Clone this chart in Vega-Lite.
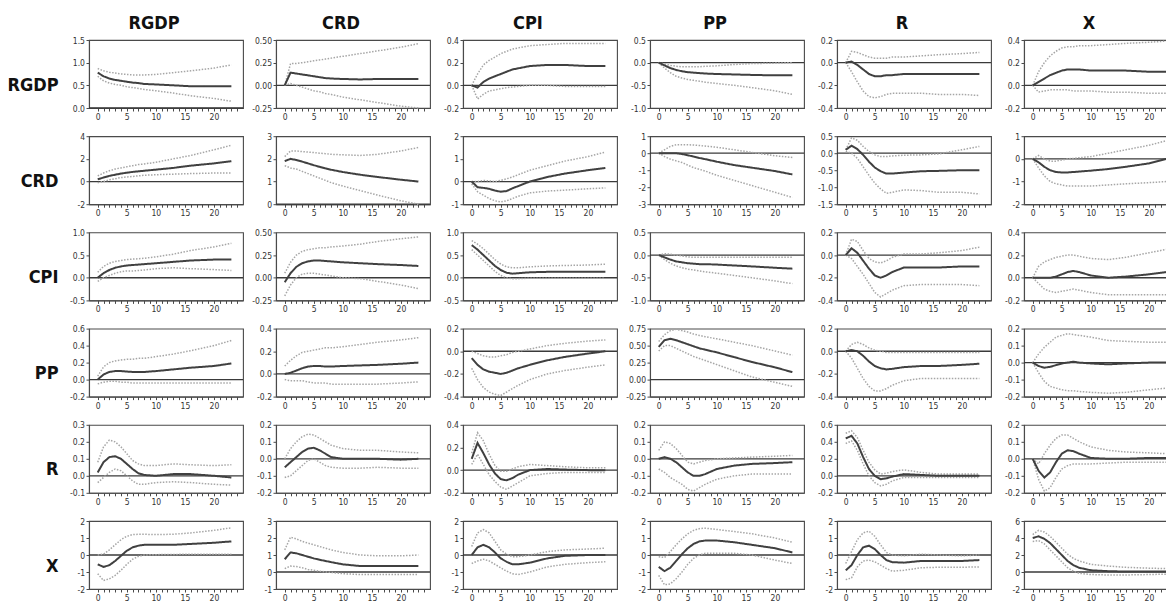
{
"$schema": "https://vega.github.io/schema/vega-lite/v6.json",
"padding": {"left": 6, "top": 14, "right": 0, "bottom": 0},
"datasets": {"irf": [
{"r":"RGDP","c":"RGDP","t":0,"m":0.78,"l":0.7,"h":0.87},{"r":"RGDP","c":"RGDP","t":1,"m":0.7,"l":0.6,"h":0.82},{"r":"RGDP","c":"RGDP","t":2,"m":0.65,"l":0.55,"h":0.79},{"r":"RGDP","c":"RGDP","t":3,"m":0.62,"l":0.52,"h":0.77},{"r":"RGDP","c":"RGDP","t":4,"m":0.6,"l":0.5,"h":0.75},{"r":"RGDP","c":"RGDP","t":5,"m":0.58,"l":0.47,"h":0.74},{"r":"RGDP","c":"RGDP","t":6,"m":0.56,"l":0.45,"h":0.73},{"r":"RGDP","c":"RGDP","t":7,"m":0.55,"l":0.43,"h":0.73},{"r":"RGDP","c":"RGDP","t":8,"m":0.53,"l":0.41,"h":0.73},{"r":"RGDP","c":"RGDP","t":10,"m":0.52,"l":0.38,"h":0.74},{"r":"RGDP","c":"RGDP","t":13,"m":0.5,"l":0.33,"h":0.78},{"r":"RGDP","c":"RGDP","t":16,"m":0.48,"l":0.27,"h":0.82},{"r":"RGDP","c":"RGDP","t":20,"m":0.48,"l":0.21,"h":0.88},{"r":"RGDP","c":"RGDP","t":23,"m":0.48,"l":0.15,"h":0.95},
{"r":"RGDP","c":"CRD","t":0,"m":0,"l":0,"h":0},{"r":"RGDP","c":"CRD","t":1,"m":0.14,"l":0.02,"h":0.24},{"r":"RGDP","c":"CRD","t":2,"m":0.13,"l":0,"h":0.24},{"r":"RGDP","c":"CRD","t":3,"m":0.12,"l":-0.02,"h":0.25},{"r":"RGDP","c":"CRD","t":4,"m":0.11,"l":-0.04,"h":0.26},{"r":"RGDP","c":"CRD","t":5,"m":0.1,"l":-0.06,"h":0.27},{"r":"RGDP","c":"CRD","t":6,"m":0.09,"l":-0.07,"h":0.28},{"r":"RGDP","c":"CRD","t":7,"m":0.08,"l":-0.09,"h":0.29},{"r":"RGDP","c":"CRD","t":8,"m":0.075,"l":-0.1,"h":0.3},{"r":"RGDP","c":"CRD","t":10,"m":0.07,"l":-0.13,"h":0.32},{"r":"RGDP","c":"CRD","t":13,"m":0.065,"l":-0.16,"h":0.35},{"r":"RGDP","c":"CRD","t":16,"m":0.07,"l":-0.19,"h":0.38},{"r":"RGDP","c":"CRD","t":20,"m":0.07,"l":-0.23,"h":0.42},{"r":"RGDP","c":"CRD","t":23,"m":0.07,"l":-0.25,"h":0.46},
{"r":"RGDP","c":"CPI","t":0,"m":0,"l":0,"h":0},{"r":"RGDP","c":"CPI","t":1,"m":-0.02,"l":-0.12,"h":0.1},{"r":"RGDP","c":"CPI","t":2,"m":0.03,"l":-0.08,"h":0.18},{"r":"RGDP","c":"CPI","t":3,"m":0.06,"l":-0.05,"h":0.22},{"r":"RGDP","c":"CPI","t":4,"m":0.08,"l":-0.04,"h":0.25},{"r":"RGDP","c":"CPI","t":5,"m":0.1,"l":-0.03,"h":0.28},{"r":"RGDP","c":"CPI","t":6,"m":0.12,"l":-0.02,"h":0.3},{"r":"RGDP","c":"CPI","t":7,"m":0.14,"l":-0.015,"h":0.32},{"r":"RGDP","c":"CPI","t":8,"m":0.15,"l":-0.01,"h":0.33},{"r":"RGDP","c":"CPI","t":10,"m":0.17,"l":0,"h":0.35},{"r":"RGDP","c":"CPI","t":13,"m":0.18,"l":0,"h":0.36},{"r":"RGDP","c":"CPI","t":16,"m":0.18,"l":-0.01,"h":0.37},{"r":"RGDP","c":"CPI","t":20,"m":0.17,"l":-0.01,"h":0.37},{"r":"RGDP","c":"CPI","t":23,"m":0.17,"l":-0.01,"h":0.37},
{"r":"RGDP","c":"PP","t":0,"m":0,"l":0,"h":0},{"r":"RGDP","c":"PP","t":1,"m":-0.06,"l":-0.12,"h":-0.03},{"r":"RGDP","c":"PP","t":2,"m":-0.12,"l":-0.22,"h":-0.06},{"r":"RGDP","c":"PP","t":3,"m":-0.16,"l":-0.3,"h":-0.08},{"r":"RGDP","c":"PP","t":4,"m":-0.19,"l":-0.34,"h":-0.09},{"r":"RGDP","c":"PP","t":5,"m":-0.21,"l":-0.37,"h":-0.09},{"r":"RGDP","c":"PP","t":6,"m":-0.22,"l":-0.39,"h":-0.09},{"r":"RGDP","c":"PP","t":7,"m":-0.23,"l":-0.41,"h":-0.09},{"r":"RGDP","c":"PP","t":8,"m":-0.24,"l":-0.43,"h":-0.08},{"r":"RGDP","c":"PP","t":10,"m":-0.25,"l":-0.46,"h":-0.07},{"r":"RGDP","c":"PP","t":13,"m":-0.26,"l":-0.5,"h":-0.04},{"r":"RGDP","c":"PP","t":16,"m":-0.27,"l":-0.55,"h":-0.02},{"r":"RGDP","c":"PP","t":20,"m":-0.28,"l":-0.62,"h":-0.01},{"r":"RGDP","c":"PP","t":23,"m":-0.28,"l":-0.7,"h":0},
{"r":"RGDP","c":"R","t":0,"m":0,"l":0,"h":0},{"r":"RGDP","c":"R","t":1,"m":0.01,"l":-0.08,"h":0.1},{"r":"RGDP","c":"R","t":2,"m":-0.02,"l":-0.17,"h":0.09},{"r":"RGDP","c":"R","t":3,"m":-0.06,"l":-0.25,"h":0.07},{"r":"RGDP","c":"R","t":4,"m":-0.1,"l":-0.3,"h":0.05},{"r":"RGDP","c":"R","t":5,"m":-0.12,"l":-0.31,"h":0.04},{"r":"RGDP","c":"R","t":6,"m":-0.12,"l":-0.3,"h":0.04},{"r":"RGDP","c":"R","t":7,"m":-0.11,"l":-0.28,"h":0.04},{"r":"RGDP","c":"R","t":8,"m":-0.11,"l":-0.27,"h":0.05},{"r":"RGDP","c":"R","t":10,"m":-0.1,"l":-0.27,"h":0.05},{"r":"RGDP","c":"R","t":13,"m":-0.1,"l":-0.27,"h":0.06},{"r":"RGDP","c":"R","t":16,"m":-0.1,"l":-0.28,"h":0.07},{"r":"RGDP","c":"R","t":20,"m":-0.1,"l":-0.28,"h":0.08},{"r":"RGDP","c":"R","t":23,"m":-0.1,"l":-0.29,"h":0.09},
{"r":"RGDP","c":"X","t":0,"m":0,"l":0,"h":0},{"r":"RGDP","c":"X","t":1,"m":0.03,"l":-0.06,"h":0.12},{"r":"RGDP","c":"X","t":2,"m":0.06,"l":-0.05,"h":0.2},{"r":"RGDP","c":"X","t":3,"m":0.09,"l":-0.04,"h":0.26},{"r":"RGDP","c":"X","t":4,"m":0.11,"l":-0.04,"h":0.3},{"r":"RGDP","c":"X","t":5,"m":0.13,"l":-0.04,"h":0.33},{"r":"RGDP","c":"X","t":6,"m":0.14,"l":-0.04,"h":0.34},{"r":"RGDP","c":"X","t":7,"m":0.14,"l":-0.05,"h":0.34},{"r":"RGDP","c":"X","t":8,"m":0.14,"l":-0.05,"h":0.35},{"r":"RGDP","c":"X","t":10,"m":0.13,"l":-0.05,"h":0.35},{"r":"RGDP","c":"X","t":13,"m":0.13,"l":-0.06,"h":0.36},{"r":"RGDP","c":"X","t":16,"m":0.13,"l":-0.06,"h":0.37},{"r":"RGDP","c":"X","t":20,"m":0.12,"l":-0.07,"h":0.38},{"r":"RGDP","c":"X","t":23,"m":0.12,"l":-0.07,"h":0.39},
{"r":"CRD","c":"RGDP","t":0,"m":0.2,"l":-0.1,"h":0.5},{"r":"CRD","c":"RGDP","t":1,"m":0.35,"l":0,"h":0.75},{"r":"CRD","c":"RGDP","t":2,"m":0.5,"l":0.15,"h":0.95},{"r":"CRD","c":"RGDP","t":3,"m":0.6,"l":0.25,"h":1.1},{"r":"CRD","c":"RGDP","t":4,"m":0.7,"l":0.35,"h":1.2},{"r":"CRD","c":"RGDP","t":5,"m":0.78,"l":0.4,"h":1.3},{"r":"CRD","c":"RGDP","t":6,"m":0.85,"l":0.45,"h":1.4},{"r":"CRD","c":"RGDP","t":7,"m":0.9,"l":0.5,"h":1.5},{"r":"CRD","c":"RGDP","t":8,"m":0.95,"l":0.55,"h":1.55},{"r":"CRD","c":"RGDP","t":10,"m":1.05,"l":0.6,"h":1.7},{"r":"CRD","c":"RGDP","t":13,"m":1.2,"l":0.65,"h":2},{"r":"CRD","c":"RGDP","t":16,"m":1.4,"l":0.7,"h":2.3},{"r":"CRD","c":"RGDP","t":20,"m":1.6,"l":0.75,"h":2.8},{"r":"CRD","c":"RGDP","t":23,"m":1.8,"l":0.75,"h":3.2},
{"r":"CRD","c":"CRD","t":0,"m":1.9,"l":1.7,"h":2.1},{"r":"CRD","c":"CRD","t":1,"m":2,"l":1.6,"h":2.35},{"r":"CRD","c":"CRD","t":2,"m":1.95,"l":1.55,"h":2.35},{"r":"CRD","c":"CRD","t":3,"m":1.88,"l":1.45,"h":2.32},{"r":"CRD","c":"CRD","t":4,"m":1.8,"l":1.35,"h":2.3},{"r":"CRD","c":"CRD","t":5,"m":1.72,"l":1.25,"h":2.28},{"r":"CRD","c":"CRD","t":6,"m":1.65,"l":1.15,"h":2.25},{"r":"CRD","c":"CRD","t":7,"m":1.58,"l":1.05,"h":2.23},{"r":"CRD","c":"CRD","t":8,"m":1.52,"l":0.95,"h":2.2},{"r":"CRD","c":"CRD","t":10,"m":1.42,"l":0.8,"h":2.18},{"r":"CRD","c":"CRD","t":13,"m":1.3,"l":0.6,"h":2.15},{"r":"CRD","c":"CRD","t":16,"m":1.2,"l":0.4,"h":2.2},{"r":"CRD","c":"CRD","t":20,"m":1.08,"l":0.15,"h":2.35},{"r":"CRD","c":"CRD","t":23,"m":1,"l":0,"h":2.5},
{"r":"CRD","c":"CPI","t":0,"m":0,"l":-0.1,"h":0},{"r":"CRD","c":"CPI","t":1,"m":-0.25,"l":-0.45,"h":0},{"r":"CRD","c":"CPI","t":2,"m":-0.28,"l":-0.6,"h":0.05},{"r":"CRD","c":"CPI","t":3,"m":-0.32,"l":-0.75,"h":0.03},{"r":"CRD","c":"CPI","t":4,"m":-0.4,"l":-0.85,"h":0},{"r":"CRD","c":"CPI","t":5,"m":-0.45,"l":-0.9,"h":0.05},{"r":"CRD","c":"CPI","t":6,"m":-0.42,"l":-0.85,"h":0.12},{"r":"CRD","c":"CPI","t":7,"m":-0.3,"l":-0.75,"h":0.2},{"r":"CRD","c":"CPI","t":8,"m":-0.2,"l":-0.65,"h":0.3},{"r":"CRD","c":"CPI","t":10,"m":0,"l":-0.5,"h":0.5},{"r":"CRD","c":"CPI","t":13,"m":0.2,"l":-0.42,"h":0.7},{"r":"CRD","c":"CPI","t":16,"m":0.35,"l":-0.38,"h":0.9},{"r":"CRD","c":"CPI","t":20,"m":0.5,"l":-0.32,"h":1.1},{"r":"CRD","c":"CPI","t":23,"m":0.6,"l":-0.28,"h":1.3},
{"r":"CRD","c":"PP","t":0,"m":0,"l":0,"h":0},{"r":"CRD","c":"PP","t":1,"m":0,"l":-0.2,"h":0.2},{"r":"CRD","c":"PP","t":2,"m":0,"l":-0.35,"h":0.4},{"r":"CRD","c":"PP","t":3,"m":0,"l":-0.45,"h":0.5},{"r":"CRD","c":"PP","t":4,"m":-0.05,"l":-0.55,"h":0.5},{"r":"CRD","c":"PP","t":5,"m":-0.12,"l":-0.7,"h":0.5},{"r":"CRD","c":"PP","t":6,"m":-0.2,"l":-0.85,"h":0.48},{"r":"CRD","c":"PP","t":7,"m":-0.28,"l":-0.95,"h":0.45},{"r":"CRD","c":"PP","t":8,"m":-0.35,"l":-1.05,"h":0.42},{"r":"CRD","c":"PP","t":10,"m":-0.5,"l":-1.3,"h":0.35},{"r":"CRD","c":"PP","t":13,"m":-0.7,"l":-1.6,"h":0.2},{"r":"CRD","c":"PP","t":16,"m":-0.85,"l":-1.9,"h":0.05},{"r":"CRD","c":"PP","t":20,"m":-1.05,"l":-2.3,"h":-0.15},{"r":"CRD","c":"PP","t":23,"m":-1.25,"l":-2.6,"h":-0.25},
{"r":"CRD","c":"R","t":0,"m":0.1,"l":0.05,"h":0.1},{"r":"CRD","c":"R","t":1,"m":0.22,"l":0,"h":0.45},{"r":"CRD","c":"R","t":2,"m":0.12,"l":-0.15,"h":0.38},{"r":"CRD","c":"R","t":3,"m":-0.05,"l":-0.4,"h":0.2},{"r":"CRD","c":"R","t":4,"m":-0.25,"l":-0.65,"h":0.05},{"r":"CRD","c":"R","t":5,"m":-0.42,"l":-0.88,"h":-0.05},{"r":"CRD","c":"R","t":6,"m":-0.53,"l":-1.05,"h":-0.1},{"r":"CRD","c":"R","t":7,"m":-0.6,"l":-1.18,"h":-0.1},{"r":"CRD","c":"R","t":8,"m":-0.6,"l":-1.15,"h":-0.08},{"r":"CRD","c":"R","t":10,"m":-0.57,"l":-1.08,"h":-0.06},{"r":"CRD","c":"R","t":13,"m":-0.53,"l":-1.1,"h":-0.05},{"r":"CRD","c":"R","t":16,"m":-0.52,"l":-1.15,"h":-0.02},{"r":"CRD","c":"R","t":20,"m":-0.5,"l":-1.15,"h":0.1},{"r":"CRD","c":"R","t":23,"m":-0.5,"l":-1.2,"h":0.2},
{"r":"CRD","c":"X","t":0,"m":0,"l":0,"h":0},{"r":"CRD","c":"X","t":1,"m":-0.15,"l":-0.4,"h":0.15},{"r":"CRD","c":"X","t":2,"m":-0.35,"l":-0.75,"h":0},{"r":"CRD","c":"X","t":3,"m":-0.5,"l":-1,"h":-0.1},{"r":"CRD","c":"X","t":4,"m":-0.58,"l":-1.1,"h":-0.1},{"r":"CRD","c":"X","t":5,"m":-0.6,"l":-1.15,"h":-0.05},{"r":"CRD","c":"X","t":6,"m":-0.6,"l":-1.2,"h":0},{"r":"CRD","c":"X","t":7,"m":-0.58,"l":-1.2,"h":0.02},{"r":"CRD","c":"X","t":8,"m":-0.56,"l":-1.2,"h":0.05},{"r":"CRD","c":"X","t":10,"m":-0.52,"l":-1.2,"h":0.1},{"r":"CRD","c":"X","t":13,"m":-0.45,"l":-1.15,"h":0.25},{"r":"CRD","c":"X","t":16,"m":-0.35,"l":-1.1,"h":0.4},{"r":"CRD","c":"X","t":20,"m":-0.2,"l":-1.05,"h":0.6},{"r":"CRD","c":"X","t":23,"m":0,"l":-1,"h":0.8},
{"r":"CPI","c":"RGDP","t":0,"m":0,"l":-0.08,"h":0.12},{"r":"CPI","c":"RGDP","t":1,"m":0.1,"l":0,"h":0.25},{"r":"CPI","c":"RGDP","t":2,"m":0.17,"l":0.05,"h":0.32},{"r":"CPI","c":"RGDP","t":3,"m":0.22,"l":0.1,"h":0.36},{"r":"CPI","c":"RGDP","t":4,"m":0.25,"l":0.13,"h":0.38},{"r":"CPI","c":"RGDP","t":5,"m":0.27,"l":0.15,"h":0.4},{"r":"CPI","c":"RGDP","t":6,"m":0.28,"l":0.15,"h":0.41},{"r":"CPI","c":"RGDP","t":7,"m":0.29,"l":0.16,"h":0.42},{"r":"CPI","c":"RGDP","t":8,"m":0.3,"l":0.17,"h":0.43},{"r":"CPI","c":"RGDP","t":10,"m":0.32,"l":0.2,"h":0.46},{"r":"CPI","c":"RGDP","t":13,"m":0.35,"l":0.22,"h":0.52},{"r":"CPI","c":"RGDP","t":16,"m":0.38,"l":0.2,"h":0.6},{"r":"CPI","c":"RGDP","t":20,"m":0.4,"l":0.18,"h":0.68},{"r":"CPI","c":"RGDP","t":23,"m":0.4,"l":0.16,"h":0.76},
{"r":"CPI","c":"CRD","t":0,"m":-0.05,"l":-0.2,"h":0.05},{"r":"CPI","c":"CRD","t":1,"m":0.05,"l":-0.08,"h":0.17},{"r":"CPI","c":"CRD","t":2,"m":0.12,"l":0,"h":0.25},{"r":"CPI","c":"CRD","t":3,"m":0.16,"l":0.04,"h":0.29},{"r":"CPI","c":"CRD","t":4,"m":0.18,"l":0.05,"h":0.31},{"r":"CPI","c":"CRD","t":5,"m":0.19,"l":0.05,"h":0.32},{"r":"CPI","c":"CRD","t":6,"m":0.19,"l":0.04,"h":0.33},{"r":"CPI","c":"CRD","t":7,"m":0.185,"l":0.03,"h":0.33},{"r":"CPI","c":"CRD","t":8,"m":0.18,"l":0.02,"h":0.34},{"r":"CPI","c":"CRD","t":10,"m":0.17,"l":0,"h":0.35},{"r":"CPI","c":"CRD","t":13,"m":0.16,"l":-0.01,"h":0.37},{"r":"CPI","c":"CRD","t":16,"m":0.15,"l":-0.04,"h":0.4},{"r":"CPI","c":"CRD","t":20,"m":0.14,"l":-0.08,"h":0.43},{"r":"CPI","c":"CRD","t":23,"m":0.13,"l":-0.12,"h":0.45},
{"r":"CPI","c":"CPI","t":0,"m":0.72,"l":0.62,"h":0.82},{"r":"CPI","c":"CPI","t":1,"m":0.62,"l":0.5,"h":0.74},{"r":"CPI","c":"CPI","t":2,"m":0.5,"l":0.38,"h":0.64},{"r":"CPI","c":"CPI","t":3,"m":0.38,"l":0.26,"h":0.52},{"r":"CPI","c":"CPI","t":4,"m":0.26,"l":0.14,"h":0.4},{"r":"CPI","c":"CPI","t":5,"m":0.17,"l":0.05,"h":0.3},{"r":"CPI","c":"CPI","t":6,"m":0.11,"l":0,"h":0.24},{"r":"CPI","c":"CPI","t":7,"m":0.09,"l":-0.02,"h":0.22},{"r":"CPI","c":"CPI","t":8,"m":0.1,"l":-0.02,"h":0.22},{"r":"CPI","c":"CPI","t":10,"m":0.12,"l":-0.01,"h":0.24},{"r":"CPI","c":"CPI","t":13,"m":0.13,"l":-0.01,"h":0.26},{"r":"CPI","c":"CPI","t":16,"m":0.13,"l":-0.01,"h":0.27},{"r":"CPI","c":"CPI","t":20,"m":0.13,"l":-0.01,"h":0.28},{"r":"CPI","c":"CPI","t":23,"m":0.13,"l":-0.01,"h":0.3},
{"r":"CPI","c":"PP","t":0,"m":0,"l":0,"h":0},{"r":"CPI","c":"PP","t":1,"m":-0.05,"l":-0.1,"h":0.03},{"r":"CPI","c":"PP","t":2,"m":-0.1,"l":-0.18,"h":0.02},{"r":"CPI","c":"PP","t":3,"m":-0.14,"l":-0.24,"h":0},{"r":"CPI","c":"PP","t":4,"m":-0.16,"l":-0.28,"h":-0.02},{"r":"CPI","c":"PP","t":5,"m":-0.18,"l":-0.31,"h":-0.04},{"r":"CPI","c":"PP","t":6,"m":-0.19,"l":-0.33,"h":-0.05},{"r":"CPI","c":"PP","t":7,"m":-0.2,"l":-0.35,"h":-0.05},{"r":"CPI","c":"PP","t":8,"m":-0.2,"l":-0.37,"h":-0.05},{"r":"CPI","c":"PP","t":10,"m":-0.21,"l":-0.4,"h":-0.05},{"r":"CPI","c":"PP","t":13,"m":-0.23,"l":-0.45,"h":-0.05},{"r":"CPI","c":"PP","t":16,"m":-0.25,"l":-0.5,"h":-0.05},{"r":"CPI","c":"PP","t":20,"m":-0.28,"l":-0.57,"h":-0.05},{"r":"CPI","c":"PP","t":23,"m":-0.3,"l":-0.63,"h":-0.05},
{"r":"CPI","c":"R","t":0,"m":0,"l":0,"h":0},{"r":"CPI","c":"R","t":1,"m":0.06,"l":-0.03,"h":0.14},{"r":"CPI","c":"R","t":2,"m":0.02,"l":-0.1,"h":0.12},{"r":"CPI","c":"R","t":3,"m":-0.05,"l":-0.17,"h":0.04},{"r":"CPI","c":"R","t":4,"m":-0.12,"l":-0.25,"h":-0.03},{"r":"CPI","c":"R","t":5,"m":-0.18,"l":-0.33,"h":-0.06},{"r":"CPI","c":"R","t":6,"m":-0.2,"l":-0.37,"h":-0.07},{"r":"CPI","c":"R","t":7,"m":-0.18,"l":-0.34,"h":-0.05},{"r":"CPI","c":"R","t":8,"m":-0.15,"l":-0.31,"h":-0.02},{"r":"CPI","c":"R","t":10,"m":-0.11,"l":-0.27,"h":0.01},{"r":"CPI","c":"R","t":13,"m":-0.11,"l":-0.26,"h":0.01},{"r":"CPI","c":"R","t":16,"m":-0.11,"l":-0.26,"h":0.02},{"r":"CPI","c":"R","t":20,"m":-0.1,"l":-0.26,"h":0.04},{"r":"CPI","c":"R","t":23,"m":-0.1,"l":-0.27,"h":0.07},
{"r":"CPI","c":"X","t":0,"m":0,"l":0,"h":0},{"r":"CPI","c":"X","t":1,"m":0,"l":-0.05,"h":0.1},{"r":"CPI","c":"X","t":2,"m":0,"l":-0.1,"h":0.14},{"r":"CPI","c":"X","t":3,"m":0,"l":-0.12,"h":0.16},{"r":"CPI","c":"X","t":4,"m":0.01,"l":-0.13,"h":0.18},{"r":"CPI","c":"X","t":5,"m":0.03,"l":-0.12,"h":0.19},{"r":"CPI","c":"X","t":6,"m":0.05,"l":-0.11,"h":0.2},{"r":"CPI","c":"X","t":7,"m":0.06,"l":-0.1,"h":0.2},{"r":"CPI","c":"X","t":8,"m":0.05,"l":-0.11,"h":0.19},{"r":"CPI","c":"X","t":10,"m":0.02,"l":-0.13,"h":0.17},{"r":"CPI","c":"X","t":13,"m":0,"l":-0.15,"h":0.16},{"r":"CPI","c":"X","t":16,"m":0.01,"l":-0.15,"h":0.18},{"r":"CPI","c":"X","t":20,"m":0.03,"l":-0.15,"h":0.22},{"r":"CPI","c":"X","t":23,"m":0.05,"l":-0.15,"h":0.25},
{"r":"PP","c":"RGDP","t":0,"m":0,"l":-0.05,"h":0.04},{"r":"PP","c":"RGDP","t":1,"m":0.06,"l":-0.03,"h":0.15},{"r":"PP","c":"RGDP","t":2,"m":0.09,"l":-0.02,"h":0.2},{"r":"PP","c":"RGDP","t":3,"m":0.1,"l":-0.02,"h":0.22},{"r":"PP","c":"RGDP","t":4,"m":0.1,"l":-0.03,"h":0.23},{"r":"PP","c":"RGDP","t":5,"m":0.095,"l":-0.03,"h":0.24},{"r":"PP","c":"RGDP","t":6,"m":0.09,"l":-0.04,"h":0.24},{"r":"PP","c":"RGDP","t":7,"m":0.09,"l":-0.04,"h":0.25},{"r":"PP","c":"RGDP","t":8,"m":0.09,"l":-0.04,"h":0.25},{"r":"PP","c":"RGDP","t":10,"m":0.1,"l":-0.04,"h":0.27},{"r":"PP","c":"RGDP","t":13,"m":0.12,"l":-0.04,"h":0.3},{"r":"PP","c":"RGDP","t":16,"m":0.14,"l":-0.04,"h":0.34},{"r":"PP","c":"RGDP","t":20,"m":0.16,"l":-0.04,"h":0.4},{"r":"PP","c":"RGDP","t":23,"m":0.19,"l":-0.04,"h":0.46},
{"r":"PP","c":"CRD","t":0,"m":0,"l":-0.05,"h":0.07},{"r":"PP","c":"CRD","t":1,"m":0.01,"l":-0.06,"h":0.12},{"r":"PP","c":"CRD","t":2,"m":0.03,"l":-0.06,"h":0.16},{"r":"PP","c":"CRD","t":3,"m":0.05,"l":-0.06,"h":0.19},{"r":"PP","c":"CRD","t":4,"m":0.065,"l":-0.07,"h":0.2},{"r":"PP","c":"CRD","t":5,"m":0.07,"l":-0.08,"h":0.21},{"r":"PP","c":"CRD","t":6,"m":0.07,"l":-0.08,"h":0.22},{"r":"PP","c":"CRD","t":7,"m":0.065,"l":-0.08,"h":0.23},{"r":"PP","c":"CRD","t":8,"m":0.065,"l":-0.09,"h":0.23},{"r":"PP","c":"CRD","t":10,"m":0.07,"l":-0.09,"h":0.24},{"r":"PP","c":"CRD","t":13,"m":0.075,"l":-0.09,"h":0.26},{"r":"PP","c":"CRD","t":16,"m":0.08,"l":-0.09,"h":0.28},{"r":"PP","c":"CRD","t":20,"m":0.09,"l":-0.08,"h":0.3},{"r":"PP","c":"CRD","t":23,"m":0.1,"l":-0.07,"h":0.32},
{"r":"PP","c":"CPI","t":0,"m":-0.06,"l":-0.15,"h":0},{"r":"PP","c":"CPI","t":1,"m":-0.12,"l":-0.25,"h":-0.02},{"r":"PP","c":"CPI","t":2,"m":-0.16,"l":-0.32,"h":-0.04},{"r":"PP","c":"CPI","t":3,"m":-0.18,"l":-0.36,"h":-0.05},{"r":"PP","c":"CPI","t":4,"m":-0.19,"l":-0.38,"h":-0.05},{"r":"PP","c":"CPI","t":5,"m":-0.2,"l":-0.39,"h":-0.04},{"r":"PP","c":"CPI","t":6,"m":-0.19,"l":-0.36,"h":-0.03},{"r":"PP","c":"CPI","t":7,"m":-0.17,"l":-0.33,"h":-0.01},{"r":"PP","c":"CPI","t":8,"m":-0.15,"l":-0.3,"h":0},{"r":"PP","c":"CPI","t":10,"m":-0.12,"l":-0.25,"h":0.02},{"r":"PP","c":"CPI","t":13,"m":-0.08,"l":-0.2,"h":0.05},{"r":"PP","c":"CPI","t":16,"m":-0.05,"l":-0.17,"h":0.07},{"r":"PP","c":"CPI","t":20,"m":-0.02,"l":-0.14,"h":0.09},{"r":"PP","c":"CPI","t":23,"m":0,"l":-0.12,"h":0.1},
{"r":"PP","c":"PP","t":0,"m":0.48,"l":0.42,"h":0.56},{"r":"PP","c":"PP","t":1,"m":0.58,"l":0.5,"h":0.66},{"r":"PP","c":"PP","t":2,"m":0.6,"l":0.5,"h":0.72},{"r":"PP","c":"PP","t":3,"m":0.58,"l":0.46,"h":0.74},{"r":"PP","c":"PP","t":4,"m":0.55,"l":0.42,"h":0.72},{"r":"PP","c":"PP","t":5,"m":0.52,"l":0.38,"h":0.7},{"r":"PP","c":"PP","t":6,"m":0.49,"l":0.34,"h":0.67},{"r":"PP","c":"PP","t":7,"m":0.46,"l":0.31,"h":0.65},{"r":"PP","c":"PP","t":8,"m":0.44,"l":0.28,"h":0.63},{"r":"PP","c":"PP","t":10,"m":0.4,"l":0.22,"h":0.6},{"r":"PP","c":"PP","t":13,"m":0.33,"l":0.13,"h":0.55},{"r":"PP","c":"PP","t":16,"m":0.26,"l":0.04,"h":0.5},{"r":"PP","c":"PP","t":20,"m":0.18,"l":-0.04,"h":0.42},{"r":"PP","c":"PP","t":23,"m":0.11,"l":-0.1,"h":0.36},
{"r":"PP","c":"R","t":0,"m":0,"l":0,"h":0},{"r":"PP","c":"R","t":1,"m":0.01,"l":-0.06,"h":0.06},{"r":"PP","c":"R","t":2,"m":0,"l":-0.15,"h":0.08},{"r":"PP","c":"R","t":3,"m":-0.04,"l":-0.24,"h":0.06},{"r":"PP","c":"R","t":4,"m":-0.09,"l":-0.31,"h":0.03},{"r":"PP","c":"R","t":5,"m":-0.13,"l":-0.35,"h":0.01},{"r":"PP","c":"R","t":6,"m":-0.15,"l":-0.35,"h":0},{"r":"PP","c":"R","t":7,"m":-0.16,"l":-0.33,"h":-0.01},{"r":"PP","c":"R","t":8,"m":-0.155,"l":-0.3,"h":-0.01},{"r":"PP","c":"R","t":10,"m":-0.14,"l":-0.26,"h":-0.01},{"r":"PP","c":"R","t":13,"m":-0.13,"l":-0.24,"h":-0.01},{"r":"PP","c":"R","t":16,"m":-0.13,"l":-0.24,"h":-0.01},{"r":"PP","c":"R","t":20,"m":-0.12,"l":-0.24,"h":-0.01},{"r":"PP","c":"R","t":23,"m":-0.11,"l":-0.24,"h":-0.01},
{"r":"PP","c":"X","t":0,"m":0,"l":0,"h":0},{"r":"PP","c":"X","t":1,"m":-0.02,"l":-0.06,"h":0.05},{"r":"PP","c":"X","t":2,"m":-0.03,"l":-0.11,"h":0.09},{"r":"PP","c":"X","t":3,"m":-0.025,"l":-0.14,"h":0.12},{"r":"PP","c":"X","t":4,"m":-0.015,"l":-0.15,"h":0.15},{"r":"PP","c":"X","t":5,"m":-0.005,"l":-0.16,"h":0.16},{"r":"PP","c":"X","t":6,"m":0,"l":-0.165,"h":0.17},{"r":"PP","c":"X","t":7,"m":0.005,"l":-0.165,"h":0.165},{"r":"PP","c":"X","t":8,"m":0,"l":-0.17,"h":0.16},{"r":"PP","c":"X","t":10,"m":-0.005,"l":-0.175,"h":0.15},{"r":"PP","c":"X","t":13,"m":-0.01,"l":-0.18,"h":0.13},{"r":"PP","c":"X","t":16,"m":-0.005,"l":-0.175,"h":0.125},{"r":"PP","c":"X","t":20,"m":0,"l":-0.16,"h":0.12},{"r":"PP","c":"X","t":23,"m":0,"l":-0.15,"h":0.12},
{"r":"R","c":"RGDP","t":0,"m":0.02,"l":-0.04,"h":0.08},{"r":"R","c":"RGDP","t":1,"m":0.08,"l":-0.01,"h":0.17},{"r":"R","c":"RGDP","t":2,"m":0.11,"l":0.02,"h":0.21},{"r":"R","c":"RGDP","t":3,"m":0.115,"l":0.04,"h":0.2},{"r":"R","c":"RGDP","t":4,"m":0.1,"l":0.03,"h":0.17},{"r":"R","c":"RGDP","t":5,"m":0.07,"l":0,"h":0.13},{"r":"R","c":"RGDP","t":6,"m":0.04,"l":-0.03,"h":0.09},{"r":"R","c":"RGDP","t":7,"m":0.015,"l":-0.05,"h":0.07},{"r":"R","c":"RGDP","t":8,"m":0.005,"l":-0.05,"h":0.06},{"r":"R","c":"RGDP","t":10,"m":0,"l":-0.04,"h":0.06},{"r":"R","c":"RGDP","t":13,"m":0.01,"l":-0.035,"h":0.07},{"r":"R","c":"RGDP","t":16,"m":0.01,"l":-0.04,"h":0.065},{"r":"R","c":"RGDP","t":20,"m":0,"l":-0.05,"h":0.06},{"r":"R","c":"RGDP","t":23,"m":-0.01,"l":-0.055,"h":0.065},
{"r":"R","c":"CRD","t":0,"m":-0.05,"l":-0.11,"h":0},{"r":"R","c":"CRD","t":1,"m":-0.02,"l":-0.1,"h":0.06},{"r":"R","c":"CRD","t":2,"m":0.01,"l":-0.07,"h":0.1},{"r":"R","c":"CRD","t":3,"m":0.04,"l":-0.04,"h":0.13},{"r":"R","c":"CRD","t":4,"m":0.06,"l":-0.01,"h":0.145},{"r":"R","c":"CRD","t":5,"m":0.065,"l":0,"h":0.14},{"r":"R","c":"CRD","t":6,"m":0.05,"l":-0.02,"h":0.12},{"r":"R","c":"CRD","t":7,"m":0.03,"l":-0.04,"h":0.1},{"r":"R","c":"CRD","t":8,"m":0.01,"l":-0.05,"h":0.08},{"r":"R","c":"CRD","t":10,"m":0,"l":-0.055,"h":0.06},{"r":"R","c":"CRD","t":13,"m":0,"l":-0.055,"h":0.05},{"r":"R","c":"CRD","t":16,"m":0,"l":-0.05,"h":0.05},{"r":"R","c":"CRD","t":20,"m":-0.005,"l":-0.055,"h":0.04},{"r":"R","c":"CRD","t":23,"m":0,"l":-0.055,"h":0.035},
{"r":"R","c":"CPI","t":0,"m":0.1,"l":0.05,"h":0.15},{"r":"R","c":"CPI","t":1,"m":0.24,"l":0.14,"h":0.33},{"r":"R","c":"CPI","t":2,"m":0.15,"l":0.05,"h":0.26},{"r":"R","c":"CPI","t":3,"m":0.05,"l":-0.04,"h":0.14},{"r":"R","c":"CPI","t":4,"m":-0.03,"l":-0.1,"h":0.04},{"r":"R","c":"CPI","t":5,"m":-0.08,"l":-0.15,"h":-0.01},{"r":"R","c":"CPI","t":6,"m":-0.09,"l":-0.17,"h":-0.01},{"r":"R","c":"CPI","t":7,"m":-0.07,"l":-0.14,"h":0.01},{"r":"R","c":"CPI","t":8,"m":-0.04,"l":-0.11,"h":0.03},{"r":"R","c":"CPI","t":10,"m":0,"l":-0.05,"h":0.05},{"r":"R","c":"CPI","t":13,"m":0.01,"l":-0.03,"h":0.04},{"r":"R","c":"CPI","t":16,"m":0.005,"l":-0.02,"h":0.03},{"r":"R","c":"CPI","t":20,"m":0,"l":-0.02,"h":0.02},{"r":"R","c":"CPI","t":23,"m":0,"l":-0.02,"h":0.02},
{"r":"R","c":"PP","t":0,"m":0,"l":-0.06,"h":0.05},{"r":"R","c":"PP","t":1,"m":0.01,"l":-0.08,"h":0.1},{"r":"R","c":"PP","t":2,"m":0,"l":-0.11,"h":0.09},{"r":"R","c":"PP","t":3,"m":-0.02,"l":-0.13,"h":0.06},{"r":"R","c":"PP","t":4,"m":-0.05,"l":-0.15,"h":0.02},{"r":"R","c":"PP","t":5,"m":-0.08,"l":-0.18,"h":-0.02},{"r":"R","c":"PP","t":6,"m":-0.1,"l":-0.19,"h":-0.03},{"r":"R","c":"PP","t":7,"m":-0.1,"l":-0.17,"h":-0.02},{"r":"R","c":"PP","t":8,"m":-0.09,"l":-0.15,"h":-0.01},{"r":"R","c":"PP","t":10,"m":-0.06,"l":-0.12,"h":0},{"r":"R","c":"PP","t":13,"m":-0.04,"l":-0.1,"h":0.005},{"r":"R","c":"PP","t":16,"m":-0.03,"l":-0.09,"h":0.01},{"r":"R","c":"PP","t":20,"m":-0.025,"l":-0.09,"h":0.015},{"r":"R","c":"PP","t":23,"m":-0.02,"l":-0.09,"h":0.02},
{"r":"R","c":"R","t":0,"m":0.44,"l":0.38,"h":0.5},{"r":"R","c":"R","t":1,"m":0.47,"l":0.41,"h":0.53},{"r":"R","c":"R","t":2,"m":0.38,"l":0.3,"h":0.45},{"r":"R","c":"R","t":3,"m":0.22,"l":0.14,"h":0.3},{"r":"R","c":"R","t":4,"m":0.08,"l":0,"h":0.16},{"r":"R","c":"R","t":5,"m":0,"l":-0.08,"h":0.07},{"r":"R","c":"R","t":6,"m":-0.04,"l":-0.12,"h":0.02},{"r":"R","c":"R","t":7,"m":-0.03,"l":-0.1,"h":0.03},{"r":"R","c":"R","t":8,"m":-0.01,"l":-0.06,"h":0.05},{"r":"R","c":"R","t":10,"m":0.02,"l":-0.02,"h":0.07},{"r":"R","c":"R","t":13,"m":0.01,"l":-0.02,"h":0.04},{"r":"R","c":"R","t":16,"m":0,"l":-0.02,"h":0.02},{"r":"R","c":"R","t":20,"m":0,"l":-0.02,"h":0.02},{"r":"R","c":"R","t":23,"m":0,"l":-0.02,"h":0.02},
{"r":"R","c":"X","t":0,"m":0,"l":0,"h":0},{"r":"R","c":"X","t":1,"m":-0.07,"l":-0.12,"h":-0.03},{"r":"R","c":"X","t":2,"m":-0.11,"l":-0.19,"h":0.03},{"r":"R","c":"X","t":3,"m":-0.08,"l":-0.17,"h":0.08},{"r":"R","c":"X","t":4,"m":-0.02,"l":-0.11,"h":0.12},{"r":"R","c":"X","t":5,"m":0.03,"l":-0.06,"h":0.14},{"r":"R","c":"X","t":6,"m":0.05,"l":-0.04,"h":0.14},{"r":"R","c":"X","t":7,"m":0.045,"l":-0.03,"h":0.12},{"r":"R","c":"X","t":8,"m":0.03,"l":-0.03,"h":0.1},{"r":"R","c":"X","t":10,"m":0.005,"l":-0.03,"h":0.07},{"r":"R","c":"X","t":13,"m":0,"l":-0.025,"h":0.05},{"r":"R","c":"X","t":16,"m":0,"l":-0.02,"h":0.04},{"r":"R","c":"X","t":20,"m":0.005,"l":-0.02,"h":0.035},{"r":"R","c":"X","t":23,"m":0.005,"l":-0.02,"h":0.03},
{"r":"X","c":"RGDP","t":0,"m":-0.55,"l":-1.1,"h":0},{"r":"X","c":"RGDP","t":1,"m":-0.7,"l":-1.5,"h":0.05},{"r":"X","c":"RGDP","t":2,"m":-0.6,"l":-1.4,"h":0.3},{"r":"X","c":"RGDP","t":3,"m":-0.35,"l":-1.2,"h":0.6},{"r":"X","c":"RGDP","t":4,"m":-0.05,"l":-0.9,"h":0.9},{"r":"X","c":"RGDP","t":5,"m":0.25,"l":-0.55,"h":1.1},{"r":"X","c":"RGDP","t":6,"m":0.45,"l":-0.25,"h":1.2},{"r":"X","c":"RGDP","t":7,"m":0.55,"l":-0.08,"h":1.22},{"r":"X","c":"RGDP","t":8,"m":0.6,"l":0,"h":1.22},{"r":"X","c":"RGDP","t":10,"m":0.6,"l":0.02,"h":1.2},{"r":"X","c":"RGDP","t":13,"m":0.6,"l":0.03,"h":1.22},{"r":"X","c":"RGDP","t":16,"m":0.65,"l":0.05,"h":1.3},{"r":"X","c":"RGDP","t":20,"m":0.72,"l":0.05,"h":1.45},{"r":"X","c":"RGDP","t":23,"m":0.8,"l":0.05,"h":1.6},
{"r":"X","c":"CRD","t":0,"m":0.75,"l":0.2,"h":1.3},{"r":"X","c":"CRD","t":1,"m":1.15,"l":0.35,"h":2.05},{"r":"X","c":"CRD","t":2,"m":1.1,"l":0.32,"h":1.95},{"r":"X","c":"CRD","t":3,"m":1,"l":0.25,"h":1.8},{"r":"X","c":"CRD","t":4,"m":0.9,"l":0.15,"h":1.7},{"r":"X","c":"CRD","t":5,"m":0.8,"l":0.1,"h":1.6},{"r":"X","c":"CRD","t":6,"m":0.72,"l":0.05,"h":1.5},{"r":"X","c":"CRD","t":7,"m":0.65,"l":0,"h":1.4},{"r":"X","c":"CRD","t":8,"m":0.58,"l":-0.02,"h":1.3},{"r":"X","c":"CRD","t":10,"m":0.45,"l":-0.1,"h":1.15},{"r":"X","c":"CRD","t":13,"m":0.35,"l":-0.15,"h":1},{"r":"X","c":"CRD","t":16,"m":0.35,"l":-0.15,"h":0.95},{"r":"X","c":"CRD","t":20,"m":0.35,"l":-0.15,"h":0.95},{"r":"X","c":"CRD","t":23,"m":0.35,"l":-0.15,"h":1},
{"r":"X","c":"CPI","t":0,"m":0,"l":-0.5,"h":0.5},{"r":"X","c":"CPI","t":1,"m":0.45,"l":-0.35,"h":1.3},{"r":"X","c":"CPI","t":2,"m":0.6,"l":-0.25,"h":1.5},{"r":"X","c":"CPI","t":3,"m":0.45,"l":-0.35,"h":1.3},{"r":"X","c":"CPI","t":4,"m":0.15,"l":-0.55,"h":0.8},{"r":"X","c":"CPI","t":5,"m":-0.2,"l":-0.75,"h":0.3},{"r":"X","c":"CPI","t":6,"m":-0.4,"l":-0.95,"h":0.05},{"r":"X","c":"CPI","t":7,"m":-0.55,"l":-1.1,"h":-0.1},{"r":"X","c":"CPI","t":8,"m":-0.55,"l":-1.15,"h":-0.1},{"r":"X","c":"CPI","t":10,"m":-0.45,"l":-1,"h":0},{"r":"X","c":"CPI","t":13,"m":-0.2,"l":-0.7,"h":0.2},{"r":"X","c":"CPI","t":16,"m":-0.05,"l":-0.55,"h":0.3},{"r":"X","c":"CPI","t":20,"m":0,"l":-0.45,"h":0.35},{"r":"X","c":"CPI","t":23,"m":0,"l":-0.4,"h":0.4},
{"r":"X","c":"PP","t":0,"m":-0.7,"l":-1.2,"h":-0.1},{"r":"X","c":"PP","t":1,"m":-0.95,"l":-1.75,"h":-0.15},{"r":"X","c":"PP","t":2,"m":-0.75,"l":-1.7,"h":0.2},{"r":"X","c":"PP","t":3,"m":-0.35,"l":-1.4,"h":0.6},{"r":"X","c":"PP","t":4,"m":0.05,"l":-1,"h":0.95},{"r":"X","c":"PP","t":5,"m":0.4,"l":-0.55,"h":1.25},{"r":"X","c":"PP","t":6,"m":0.65,"l":-0.2,"h":1.45},{"r":"X","c":"PP","t":7,"m":0.8,"l":0,"h":1.55},{"r":"X","c":"PP","t":8,"m":0.85,"l":0.1,"h":1.58},{"r":"X","c":"PP","t":10,"m":0.85,"l":0.1,"h":1.5},{"r":"X","c":"PP","t":13,"m":0.75,"l":0.1,"h":1.38},{"r":"X","c":"PP","t":16,"m":0.6,"l":0,"h":1.25},{"r":"X","c":"PP","t":20,"m":0.4,"l":-0.3,"h":1},{"r":"X","c":"PP","t":23,"m":0.15,"l":-0.5,"h":0.75},
{"r":"X","c":"R","t":0,"m":-0.9,"l":-1.45,"h":-0.5},{"r":"X","c":"R","t":1,"m":-0.6,"l":-1.35,"h":0.2},{"r":"X","c":"R","t":2,"m":0,"l":-0.7,"h":0.9},{"r":"X","c":"R","t":3,"m":0.45,"l":-0.35,"h":1.3},{"r":"X","c":"R","t":4,"m":0.55,"l":-0.3,"h":1.4},{"r":"X","c":"R","t":5,"m":0.35,"l":-0.4,"h":1.1},{"r":"X","c":"R","t":6,"m":0,"l":-0.6,"h":0.6},{"r":"X","c":"R","t":7,"m":-0.3,"l":-0.8,"h":0.15},{"r":"X","c":"R","t":8,"m":-0.42,"l":-0.95,"h":0},{"r":"X","c":"R","t":10,"m":-0.45,"l":-0.9,"h":-0.05},{"r":"X","c":"R","t":13,"m":-0.35,"l":-0.75,"h":0.05},{"r":"X","c":"R","t":16,"m":-0.35,"l":-0.72,"h":0},{"r":"X","c":"R","t":20,"m":-0.35,"l":-0.72,"h":-0.05},{"r":"X","c":"R","t":23,"m":-0.3,"l":-0.7,"h":0},
{"r":"X","c":"X","t":0,"m":4,"l":3.6,"h":4.4},{"r":"X","c":"X","t":1,"m":4.2,"l":3.7,"h":4.9},{"r":"X","c":"X","t":2,"m":3.9,"l":3.3,"h":4.7},{"r":"X","c":"X","t":3,"m":3.4,"l":2.6,"h":4.2},{"r":"X","c":"X","t":4,"m":2.7,"l":1.9,"h":3.5},{"r":"X","c":"X","t":5,"m":2,"l":1.2,"h":2.8},{"r":"X","c":"X","t":6,"m":1.3,"l":0.5,"h":2.1},{"r":"X","c":"X","t":7,"m":0.8,"l":0.1,"h":1.6},{"r":"X","c":"X","t":8,"m":0.5,"l":-0.15,"h":1.3},{"r":"X","c":"X","t":10,"m":0.2,"l":-0.3,"h":0.9},{"r":"X","c":"X","t":13,"m":0.1,"l":-0.35,"h":0.7},{"r":"X","c":"X","t":16,"m":0.05,"l":-0.35,"h":0.55},{"r":"X","c":"X","t":20,"m":0.05,"l":-0.3,"h":0.45},{"r":"X","c":"X","t":23,"m":0.05,"l":-0.25,"h":0.4}
]},
"data": {"name": "irf"},
"columns": 6,
"spacing": {"row": 28.2, "column": 33},
"bounds": "flush",
"concat": [
{"width":154,"height":68,"title":"RGDP","transform":[{"filter":"datum.r=='RGDP'&&datum.c=='RGDP'"}],"layer":[{"transform":[{"filter":"datum.t==0"}],"mark":"rule","encoding":{"y":{"datum":0,"type":"quantitative"}}},{"mark":"line","encoding":{"x":{"field":"t","type":"quantitative","scale":{"domain":[-1.5,25],"nice":false},"axis":{"title":null,"tickCount":40,"format":"d","values":[0,1,2,3,4,5,6,7,8,9,10,11,12,13,14,15,16,17,18,19,20,21,22,23,24],"labelExpr":"datum.value%5?'':datum.label","labelOverlap":false}},"y":{"field":"l","type":"quantitative","scale":{"domain":[0,1.5],"nice":false},"axis":{"title":"RGDP","titleX":-31,"titleY":45,"tickCount":40,"values":[0,0.5,1,1.5],"format":".1f","labelExpr":"replace(datum.label,'−','-')","labelOverlap":false}}}},{"mark":"line","encoding":{"x":{"field":"t","type":"quantitative"},"y":{"field":"h","type":"quantitative"}}},{"mark":{"type":"line","color":"#404040","strokeWidth":2,"strokeDash":[1,0]},"encoding":{"x":{"field":"t","type":"quantitative"},"y":{"field":"m","type":"quantitative"}}}]},
{"width":154,"height":68,"title":"CRD","transform":[{"filter":"datum.r=='RGDP'&&datum.c=='CRD'"}],"layer":[{"transform":[{"filter":"datum.t==0"}],"mark":"rule","encoding":{"y":{"datum":0,"type":"quantitative"}}},{"mark":"line","encoding":{"x":{"field":"t","type":"quantitative","scale":{"domain":[-1.5,25],"nice":false},"axis":{"title":null,"tickCount":40,"format":"d","values":[0,1,2,3,4,5,6,7,8,9,10,11,12,13,14,15,16,17,18,19,20,21,22,23,24],"labelExpr":"datum.value%5?'':datum.label","labelOverlap":false}},"y":{"field":"l","type":"quantitative","scale":{"domain":[-0.25,0.5],"nice":false},"axis":{"title":null,"tickCount":40,"values":[-0.25,0,0.25,0.5],"format":".2f","labelExpr":"replace(datum.label,'−','-')","labelOverlap":false}}}},{"mark":"line","encoding":{"x":{"field":"t","type":"quantitative"},"y":{"field":"h","type":"quantitative"}}},{"mark":{"type":"line","color":"#404040","strokeWidth":2,"strokeDash":[1,0]},"encoding":{"x":{"field":"t","type":"quantitative"},"y":{"field":"m","type":"quantitative"}}}]},
{"width":154,"height":68,"title":"CPI","transform":[{"filter":"datum.r=='RGDP'&&datum.c=='CPI'"}],"layer":[{"transform":[{"filter":"datum.t==0"}],"mark":"rule","encoding":{"y":{"datum":0,"type":"quantitative"}}},{"mark":"line","encoding":{"x":{"field":"t","type":"quantitative","scale":{"domain":[-1.5,25],"nice":false},"axis":{"title":null,"tickCount":40,"format":"d","values":[0,1,2,3,4,5,6,7,8,9,10,11,12,13,14,15,16,17,18,19,20,21,22,23,24],"labelExpr":"datum.value%5?'':datum.label","labelOverlap":false}},"y":{"field":"l","type":"quantitative","scale":{"domain":[-0.2,0.4],"nice":false},"axis":{"title":null,"tickCount":40,"values":[-0.2,0,0.2,0.4],"format":".1f","labelExpr":"replace(datum.label,'−','-')","labelOverlap":false}}}},{"mark":"line","encoding":{"x":{"field":"t","type":"quantitative"},"y":{"field":"h","type":"quantitative"}}},{"mark":{"type":"line","color":"#404040","strokeWidth":2,"strokeDash":[1,0]},"encoding":{"x":{"field":"t","type":"quantitative"},"y":{"field":"m","type":"quantitative"}}}]},
{"width":154,"height":68,"title":"PP","transform":[{"filter":"datum.r=='RGDP'&&datum.c=='PP'"}],"layer":[{"transform":[{"filter":"datum.t==0"}],"mark":"rule","encoding":{"y":{"datum":0,"type":"quantitative"}}},{"mark":"line","encoding":{"x":{"field":"t","type":"quantitative","scale":{"domain":[-1.5,25],"nice":false},"axis":{"title":null,"tickCount":40,"format":"d","values":[0,1,2,3,4,5,6,7,8,9,10,11,12,13,14,15,16,17,18,19,20,21,22,23,24],"labelExpr":"datum.value%5?'':datum.label","labelOverlap":false}},"y":{"field":"l","type":"quantitative","scale":{"domain":[-1,0.5],"nice":false},"axis":{"title":null,"tickCount":40,"values":[-1,-0.5,0,0.5],"format":".1f","labelExpr":"replace(datum.label,'−','-')","labelOverlap":false}}}},{"mark":"line","encoding":{"x":{"field":"t","type":"quantitative"},"y":{"field":"h","type":"quantitative"}}},{"mark":{"type":"line","color":"#404040","strokeWidth":2,"strokeDash":[1,0]},"encoding":{"x":{"field":"t","type":"quantitative"},"y":{"field":"m","type":"quantitative"}}}]},
{"width":154,"height":68,"title":"R","transform":[{"filter":"datum.r=='RGDP'&&datum.c=='R'"}],"layer":[{"transform":[{"filter":"datum.t==0"}],"mark":"rule","encoding":{"y":{"datum":0,"type":"quantitative"}}},{"mark":"line","encoding":{"x":{"field":"t","type":"quantitative","scale":{"domain":[-1.5,25],"nice":false},"axis":{"title":null,"tickCount":40,"format":"d","values":[0,1,2,3,4,5,6,7,8,9,10,11,12,13,14,15,16,17,18,19,20,21,22,23,24],"labelExpr":"datum.value%5?'':datum.label","labelOverlap":false}},"y":{"field":"l","type":"quantitative","scale":{"domain":[-0.4,0.2],"nice":false},"axis":{"title":null,"tickCount":40,"values":[-0.4,-0.2,0,0.2],"format":".1f","labelExpr":"replace(datum.label,'−','-')","labelOverlap":false}}}},{"mark":"line","encoding":{"x":{"field":"t","type":"quantitative"},"y":{"field":"h","type":"quantitative"}}},{"mark":{"type":"line","color":"#404040","strokeWidth":2,"strokeDash":[1,0]},"encoding":{"x":{"field":"t","type":"quantitative"},"y":{"field":"m","type":"quantitative"}}}]},
{"width":154,"height":68,"title":"X","transform":[{"filter":"datum.r=='RGDP'&&datum.c=='X'"}],"layer":[{"transform":[{"filter":"datum.t==0"}],"mark":"rule","encoding":{"y":{"datum":0,"type":"quantitative"}}},{"mark":"line","encoding":{"x":{"field":"t","type":"quantitative","scale":{"domain":[-1.5,25],"nice":false},"axis":{"title":null,"tickCount":40,"format":"d","values":[0,1,2,3,4,5,6,7,8,9,10,11,12,13,14,15,16,17,18,19,20,21,22,23,24],"labelExpr":"datum.value%5?'':datum.label","labelOverlap":false}},"y":{"field":"l","type":"quantitative","scale":{"domain":[-0.2,0.4],"nice":false},"axis":{"title":null,"tickCount":40,"values":[-0.2,0,0.2,0.4],"format":".1f","labelExpr":"replace(datum.label,'−','-')","labelOverlap":false}}}},{"mark":"line","encoding":{"x":{"field":"t","type":"quantitative"},"y":{"field":"h","type":"quantitative"}}},{"mark":{"type":"line","color":"#404040","strokeWidth":2,"strokeDash":[1,0]},"encoding":{"x":{"field":"t","type":"quantitative"},"y":{"field":"m","type":"quantitative"}}}]},
{"width":154,"height":68,"transform":[{"filter":"datum.r=='CRD'&&datum.c=='RGDP'"}],"layer":[{"transform":[{"filter":"datum.t==0"}],"mark":"rule","encoding":{"y":{"datum":0,"type":"quantitative"}}},{"mark":"line","encoding":{"x":{"field":"t","type":"quantitative","scale":{"domain":[-1.5,25],"nice":false},"axis":{"title":null,"tickCount":40,"format":"d","values":[0,1,2,3,4,5,6,7,8,9,10,11,12,13,14,15,16,17,18,19,20,21,22,23,24],"labelExpr":"datum.value%5?'':datum.label","labelOverlap":false}},"y":{"field":"l","type":"quantitative","scale":{"domain":[-2,4],"nice":false},"axis":{"title":"CRD","titleX":-31,"titleY":45,"tickCount":40,"values":[-2,0,2,4],"format":"d","labelExpr":"replace(datum.label,'−','-')","labelOverlap":false}}}},{"mark":"line","encoding":{"x":{"field":"t","type":"quantitative"},"y":{"field":"h","type":"quantitative"}}},{"mark":{"type":"line","color":"#404040","strokeWidth":2,"strokeDash":[1,0]},"encoding":{"x":{"field":"t","type":"quantitative"},"y":{"field":"m","type":"quantitative"}}}]},
{"width":154,"height":68,"transform":[{"filter":"datum.r=='CRD'&&datum.c=='CRD'"}],"layer":[{"transform":[{"filter":"datum.t==0"}],"mark":"rule","encoding":{"y":{"datum":0,"type":"quantitative"}}},{"mark":"line","encoding":{"x":{"field":"t","type":"quantitative","scale":{"domain":[-1.5,25],"nice":false},"axis":{"title":null,"tickCount":40,"format":"d","values":[0,1,2,3,4,5,6,7,8,9,10,11,12,13,14,15,16,17,18,19,20,21,22,23,24],"labelExpr":"datum.value%5?'':datum.label","labelOverlap":false}},"y":{"field":"l","type":"quantitative","scale":{"domain":[0,3],"nice":false},"axis":{"title":null,"tickCount":40,"values":[0,1,2,3],"format":"d","labelExpr":"replace(datum.label,'−','-')","labelOverlap":false}}}},{"mark":"line","encoding":{"x":{"field":"t","type":"quantitative"},"y":{"field":"h","type":"quantitative"}}},{"mark":{"type":"line","color":"#404040","strokeWidth":2,"strokeDash":[1,0]},"encoding":{"x":{"field":"t","type":"quantitative"},"y":{"field":"m","type":"quantitative"}}}]},
{"width":154,"height":68,"transform":[{"filter":"datum.r=='CRD'&&datum.c=='CPI'"}],"layer":[{"transform":[{"filter":"datum.t==0"}],"mark":"rule","encoding":{"y":{"datum":0,"type":"quantitative"}}},{"mark":"line","encoding":{"x":{"field":"t","type":"quantitative","scale":{"domain":[-1.5,25],"nice":false},"axis":{"title":null,"tickCount":40,"format":"d","values":[0,1,2,3,4,5,6,7,8,9,10,11,12,13,14,15,16,17,18,19,20,21,22,23,24],"labelExpr":"datum.value%5?'':datum.label","labelOverlap":false}},"y":{"field":"l","type":"quantitative","scale":{"domain":[-1,2],"nice":false},"axis":{"title":null,"tickCount":40,"values":[-1,0,1,2],"format":"d","labelExpr":"replace(datum.label,'−','-')","labelOverlap":false}}}},{"mark":"line","encoding":{"x":{"field":"t","type":"quantitative"},"y":{"field":"h","type":"quantitative"}}},{"mark":{"type":"line","color":"#404040","strokeWidth":2,"strokeDash":[1,0]},"encoding":{"x":{"field":"t","type":"quantitative"},"y":{"field":"m","type":"quantitative"}}}]},
{"width":154,"height":68,"transform":[{"filter":"datum.r=='CRD'&&datum.c=='PP'"}],"layer":[{"transform":[{"filter":"datum.t==0"}],"mark":"rule","encoding":{"y":{"datum":0,"type":"quantitative"}}},{"mark":"line","encoding":{"x":{"field":"t","type":"quantitative","scale":{"domain":[-1.5,25],"nice":false},"axis":{"title":null,"tickCount":40,"format":"d","values":[0,1,2,3,4,5,6,7,8,9,10,11,12,13,14,15,16,17,18,19,20,21,22,23,24],"labelExpr":"datum.value%5?'':datum.label","labelOverlap":false}},"y":{"field":"l","type":"quantitative","scale":{"domain":[-3,1],"nice":false},"axis":{"title":null,"tickCount":40,"values":[-3,-2,-1,0,1],"format":"d","labelExpr":"replace(datum.label,'−','-')","labelOverlap":false}}}},{"mark":"line","encoding":{"x":{"field":"t","type":"quantitative"},"y":{"field":"h","type":"quantitative"}}},{"mark":{"type":"line","color":"#404040","strokeWidth":2,"strokeDash":[1,0]},"encoding":{"x":{"field":"t","type":"quantitative"},"y":{"field":"m","type":"quantitative"}}}]},
{"width":154,"height":68,"transform":[{"filter":"datum.r=='CRD'&&datum.c=='R'"}],"layer":[{"transform":[{"filter":"datum.t==0"}],"mark":"rule","encoding":{"y":{"datum":0,"type":"quantitative"}}},{"mark":"line","encoding":{"x":{"field":"t","type":"quantitative","scale":{"domain":[-1.5,25],"nice":false},"axis":{"title":null,"tickCount":40,"format":"d","values":[0,1,2,3,4,5,6,7,8,9,10,11,12,13,14,15,16,17,18,19,20,21,22,23,24],"labelExpr":"datum.value%5?'':datum.label","labelOverlap":false}},"y":{"field":"l","type":"quantitative","scale":{"domain":[-1.5,0.5],"nice":false},"axis":{"title":null,"tickCount":40,"values":[-1.5,-1,-0.5,0,0.5],"format":".1f","labelExpr":"replace(datum.label,'−','-')","labelOverlap":false}}}},{"mark":"line","encoding":{"x":{"field":"t","type":"quantitative"},"y":{"field":"h","type":"quantitative"}}},{"mark":{"type":"line","color":"#404040","strokeWidth":2,"strokeDash":[1,0]},"encoding":{"x":{"field":"t","type":"quantitative"},"y":{"field":"m","type":"quantitative"}}}]},
{"width":154,"height":68,"transform":[{"filter":"datum.r=='CRD'&&datum.c=='X'"}],"layer":[{"transform":[{"filter":"datum.t==0"}],"mark":"rule","encoding":{"y":{"datum":0,"type":"quantitative"}}},{"mark":"line","encoding":{"x":{"field":"t","type":"quantitative","scale":{"domain":[-1.5,25],"nice":false},"axis":{"title":null,"tickCount":40,"format":"d","values":[0,1,2,3,4,5,6,7,8,9,10,11,12,13,14,15,16,17,18,19,20,21,22,23,24],"labelExpr":"datum.value%5?'':datum.label","labelOverlap":false}},"y":{"field":"l","type":"quantitative","scale":{"domain":[-2,1],"nice":false},"axis":{"title":null,"tickCount":40,"values":[-2,-1,0,1],"format":"d","labelExpr":"replace(datum.label,'−','-')","labelOverlap":false}}}},{"mark":"line","encoding":{"x":{"field":"t","type":"quantitative"},"y":{"field":"h","type":"quantitative"}}},{"mark":{"type":"line","color":"#404040","strokeWidth":2,"strokeDash":[1,0]},"encoding":{"x":{"field":"t","type":"quantitative"},"y":{"field":"m","type":"quantitative"}}}]},
{"width":154,"height":68,"transform":[{"filter":"datum.r=='CPI'&&datum.c=='RGDP'"}],"layer":[{"transform":[{"filter":"datum.t==0"}],"mark":"rule","encoding":{"y":{"datum":0,"type":"quantitative"}}},{"mark":"line","encoding":{"x":{"field":"t","type":"quantitative","scale":{"domain":[-1.5,25],"nice":false},"axis":{"title":null,"tickCount":40,"format":"d","values":[0,1,2,3,4,5,6,7,8,9,10,11,12,13,14,15,16,17,18,19,20,21,22,23,24],"labelExpr":"datum.value%5?'':datum.label","labelOverlap":false}},"y":{"field":"l","type":"quantitative","scale":{"domain":[-0.5,1],"nice":false},"axis":{"title":"CPI","titleX":-31,"titleY":45,"tickCount":40,"values":[-0.5,0,0.5,1],"format":".1f","labelExpr":"replace(datum.label,'−','-')","labelOverlap":false}}}},{"mark":"line","encoding":{"x":{"field":"t","type":"quantitative"},"y":{"field":"h","type":"quantitative"}}},{"mark":{"type":"line","color":"#404040","strokeWidth":2,"strokeDash":[1,0]},"encoding":{"x":{"field":"t","type":"quantitative"},"y":{"field":"m","type":"quantitative"}}}]},
{"width":154,"height":68,"transform":[{"filter":"datum.r=='CPI'&&datum.c=='CRD'"}],"layer":[{"transform":[{"filter":"datum.t==0"}],"mark":"rule","encoding":{"y":{"datum":0,"type":"quantitative"}}},{"mark":"line","encoding":{"x":{"field":"t","type":"quantitative","scale":{"domain":[-1.5,25],"nice":false},"axis":{"title":null,"tickCount":40,"format":"d","values":[0,1,2,3,4,5,6,7,8,9,10,11,12,13,14,15,16,17,18,19,20,21,22,23,24],"labelExpr":"datum.value%5?'':datum.label","labelOverlap":false}},"y":{"field":"l","type":"quantitative","scale":{"domain":[-0.25,0.5],"nice":false},"axis":{"title":null,"tickCount":40,"values":[-0.25,0,0.25,0.5],"format":".2f","labelExpr":"replace(datum.label,'−','-')","labelOverlap":false}}}},{"mark":"line","encoding":{"x":{"field":"t","type":"quantitative"},"y":{"field":"h","type":"quantitative"}}},{"mark":{"type":"line","color":"#404040","strokeWidth":2,"strokeDash":[1,0]},"encoding":{"x":{"field":"t","type":"quantitative"},"y":{"field":"m","type":"quantitative"}}}]},
{"width":154,"height":68,"transform":[{"filter":"datum.r=='CPI'&&datum.c=='CPI'"}],"layer":[{"transform":[{"filter":"datum.t==0"}],"mark":"rule","encoding":{"y":{"datum":0,"type":"quantitative"}}},{"mark":"line","encoding":{"x":{"field":"t","type":"quantitative","scale":{"domain":[-1.5,25],"nice":false},"axis":{"title":null,"tickCount":40,"format":"d","values":[0,1,2,3,4,5,6,7,8,9,10,11,12,13,14,15,16,17,18,19,20,21,22,23,24],"labelExpr":"datum.value%5?'':datum.label","labelOverlap":false}},"y":{"field":"l","type":"quantitative","scale":{"domain":[-0.5,1],"nice":false},"axis":{"title":null,"tickCount":40,"values":[-0.5,0,0.5,1],"format":".1f","labelExpr":"replace(datum.label,'−','-')","labelOverlap":false}}}},{"mark":"line","encoding":{"x":{"field":"t","type":"quantitative"},"y":{"field":"h","type":"quantitative"}}},{"mark":{"type":"line","color":"#404040","strokeWidth":2,"strokeDash":[1,0]},"encoding":{"x":{"field":"t","type":"quantitative"},"y":{"field":"m","type":"quantitative"}}}]},
{"width":154,"height":68,"transform":[{"filter":"datum.r=='CPI'&&datum.c=='PP'"}],"layer":[{"transform":[{"filter":"datum.t==0"}],"mark":"rule","encoding":{"y":{"datum":0,"type":"quantitative"}}},{"mark":"line","encoding":{"x":{"field":"t","type":"quantitative","scale":{"domain":[-1.5,25],"nice":false},"axis":{"title":null,"tickCount":40,"format":"d","values":[0,1,2,3,4,5,6,7,8,9,10,11,12,13,14,15,16,17,18,19,20,21,22,23,24],"labelExpr":"datum.value%5?'':datum.label","labelOverlap":false}},"y":{"field":"l","type":"quantitative","scale":{"domain":[-1,0.5],"nice":false},"axis":{"title":null,"tickCount":40,"values":[-1,-0.5,0,0.5],"format":".1f","labelExpr":"replace(datum.label,'−','-')","labelOverlap":false}}}},{"mark":"line","encoding":{"x":{"field":"t","type":"quantitative"},"y":{"field":"h","type":"quantitative"}}},{"mark":{"type":"line","color":"#404040","strokeWidth":2,"strokeDash":[1,0]},"encoding":{"x":{"field":"t","type":"quantitative"},"y":{"field":"m","type":"quantitative"}}}]},
{"width":154,"height":68,"transform":[{"filter":"datum.r=='CPI'&&datum.c=='R'"}],"layer":[{"transform":[{"filter":"datum.t==0"}],"mark":"rule","encoding":{"y":{"datum":0,"type":"quantitative"}}},{"mark":"line","encoding":{"x":{"field":"t","type":"quantitative","scale":{"domain":[-1.5,25],"nice":false},"axis":{"title":null,"tickCount":40,"format":"d","values":[0,1,2,3,4,5,6,7,8,9,10,11,12,13,14,15,16,17,18,19,20,21,22,23,24],"labelExpr":"datum.value%5?'':datum.label","labelOverlap":false}},"y":{"field":"l","type":"quantitative","scale":{"domain":[-0.4,0.2],"nice":false},"axis":{"title":null,"tickCount":40,"values":[-0.4,-0.2,0,0.2],"format":".1f","labelExpr":"replace(datum.label,'−','-')","labelOverlap":false}}}},{"mark":"line","encoding":{"x":{"field":"t","type":"quantitative"},"y":{"field":"h","type":"quantitative"}}},{"mark":{"type":"line","color":"#404040","strokeWidth":2,"strokeDash":[1,0]},"encoding":{"x":{"field":"t","type":"quantitative"},"y":{"field":"m","type":"quantitative"}}}]},
{"width":154,"height":68,"transform":[{"filter":"datum.r=='CPI'&&datum.c=='X'"}],"layer":[{"transform":[{"filter":"datum.t==0"}],"mark":"rule","encoding":{"y":{"datum":0,"type":"quantitative"}}},{"mark":"line","encoding":{"x":{"field":"t","type":"quantitative","scale":{"domain":[-1.5,25],"nice":false},"axis":{"title":null,"tickCount":40,"format":"d","values":[0,1,2,3,4,5,6,7,8,9,10,11,12,13,14,15,16,17,18,19,20,21,22,23,24],"labelExpr":"datum.value%5?'':datum.label","labelOverlap":false}},"y":{"field":"l","type":"quantitative","scale":{"domain":[-0.2,0.4],"nice":false},"axis":{"title":null,"tickCount":40,"values":[-0.2,0,0.2,0.4],"format":".1f","labelExpr":"replace(datum.label,'−','-')","labelOverlap":false}}}},{"mark":"line","encoding":{"x":{"field":"t","type":"quantitative"},"y":{"field":"h","type":"quantitative"}}},{"mark":{"type":"line","color":"#404040","strokeWidth":2,"strokeDash":[1,0]},"encoding":{"x":{"field":"t","type":"quantitative"},"y":{"field":"m","type":"quantitative"}}}]},
{"width":154,"height":68,"transform":[{"filter":"datum.r=='PP'&&datum.c=='RGDP'"}],"layer":[{"transform":[{"filter":"datum.t==0"}],"mark":"rule","encoding":{"y":{"datum":0,"type":"quantitative"}}},{"mark":"line","encoding":{"x":{"field":"t","type":"quantitative","scale":{"domain":[-1.5,25],"nice":false},"axis":{"title":null,"tickCount":40,"format":"d","values":[0,1,2,3,4,5,6,7,8,9,10,11,12,13,14,15,16,17,18,19,20,21,22,23,24],"labelExpr":"datum.value%5?'':datum.label","labelOverlap":false}},"y":{"field":"l","type":"quantitative","scale":{"domain":[-0.2,0.6],"nice":false},"axis":{"title":"PP","titleX":-31,"titleY":45,"tickCount":40,"values":[-0.2,0,0.2,0.4,0.6],"format":".1f","labelExpr":"replace(datum.label,'−','-')","labelOverlap":false}}}},{"mark":"line","encoding":{"x":{"field":"t","type":"quantitative"},"y":{"field":"h","type":"quantitative"}}},{"mark":{"type":"line","color":"#404040","strokeWidth":2,"strokeDash":[1,0]},"encoding":{"x":{"field":"t","type":"quantitative"},"y":{"field":"m","type":"quantitative"}}}]},
{"width":154,"height":68,"transform":[{"filter":"datum.r=='PP'&&datum.c=='CRD'"}],"layer":[{"transform":[{"filter":"datum.t==0"}],"mark":"rule","encoding":{"y":{"datum":0,"type":"quantitative"}}},{"mark":"line","encoding":{"x":{"field":"t","type":"quantitative","scale":{"domain":[-1.5,25],"nice":false},"axis":{"title":null,"tickCount":40,"format":"d","values":[0,1,2,3,4,5,6,7,8,9,10,11,12,13,14,15,16,17,18,19,20,21,22,23,24],"labelExpr":"datum.value%5?'':datum.label","labelOverlap":false}},"y":{"field":"l","type":"quantitative","scale":{"domain":[-0.2,0.4],"nice":false},"axis":{"title":null,"tickCount":40,"values":[-0.2,0,0.2,0.4],"format":".1f","labelExpr":"replace(datum.label,'−','-')","labelOverlap":false}}}},{"mark":"line","encoding":{"x":{"field":"t","type":"quantitative"},"y":{"field":"h","type":"quantitative"}}},{"mark":{"type":"line","color":"#404040","strokeWidth":2,"strokeDash":[1,0]},"encoding":{"x":{"field":"t","type":"quantitative"},"y":{"field":"m","type":"quantitative"}}}]},
{"width":154,"height":68,"transform":[{"filter":"datum.r=='PP'&&datum.c=='CPI'"}],"layer":[{"transform":[{"filter":"datum.t==0"}],"mark":"rule","encoding":{"y":{"datum":0,"type":"quantitative"}}},{"mark":"line","encoding":{"x":{"field":"t","type":"quantitative","scale":{"domain":[-1.5,25],"nice":false},"axis":{"title":null,"tickCount":40,"format":"d","values":[0,1,2,3,4,5,6,7,8,9,10,11,12,13,14,15,16,17,18,19,20,21,22,23,24],"labelExpr":"datum.value%5?'':datum.label","labelOverlap":false}},"y":{"field":"l","type":"quantitative","scale":{"domain":[-0.4,0.2],"nice":false},"axis":{"title":null,"tickCount":40,"values":[-0.4,-0.2,0,0.2],"format":".1f","labelExpr":"replace(datum.label,'−','-')","labelOverlap":false}}}},{"mark":"line","encoding":{"x":{"field":"t","type":"quantitative"},"y":{"field":"h","type":"quantitative"}}},{"mark":{"type":"line","color":"#404040","strokeWidth":2,"strokeDash":[1,0]},"encoding":{"x":{"field":"t","type":"quantitative"},"y":{"field":"m","type":"quantitative"}}}]},
{"width":154,"height":68,"transform":[{"filter":"datum.r=='PP'&&datum.c=='PP'"}],"layer":[{"transform":[{"filter":"datum.t==0"}],"mark":"rule","encoding":{"y":{"datum":0,"type":"quantitative"}}},{"mark":"line","encoding":{"x":{"field":"t","type":"quantitative","scale":{"domain":[-1.5,25],"nice":false},"axis":{"title":null,"tickCount":40,"format":"d","values":[0,1,2,3,4,5,6,7,8,9,10,11,12,13,14,15,16,17,18,19,20,21,22,23,24],"labelExpr":"datum.value%5?'':datum.label","labelOverlap":false}},"y":{"field":"l","type":"quantitative","scale":{"domain":[-0.25,0.75],"nice":false},"axis":{"title":null,"tickCount":40,"values":[-0.25,0,0.25,0.5,0.75],"format":".2f","labelExpr":"replace(datum.label,'−','-')","labelOverlap":false}}}},{"mark":"line","encoding":{"x":{"field":"t","type":"quantitative"},"y":{"field":"h","type":"quantitative"}}},{"mark":{"type":"line","color":"#404040","strokeWidth":2,"strokeDash":[1,0]},"encoding":{"x":{"field":"t","type":"quantitative"},"y":{"field":"m","type":"quantitative"}}}]},
{"width":154,"height":68,"transform":[{"filter":"datum.r=='PP'&&datum.c=='R'"}],"layer":[{"transform":[{"filter":"datum.t==0"}],"mark":"rule","encoding":{"y":{"datum":0,"type":"quantitative"}}},{"mark":"line","encoding":{"x":{"field":"t","type":"quantitative","scale":{"domain":[-1.5,25],"nice":false},"axis":{"title":null,"tickCount":40,"format":"d","values":[0,1,2,3,4,5,6,7,8,9,10,11,12,13,14,15,16,17,18,19,20,21,22,23,24],"labelExpr":"datum.value%5?'':datum.label","labelOverlap":false}},"y":{"field":"l","type":"quantitative","scale":{"domain":[-0.4,0.2],"nice":false},"axis":{"title":null,"tickCount":40,"values":[-0.4,-0.2,0,0.2],"format":".1f","labelExpr":"replace(datum.label,'−','-')","labelOverlap":false}}}},{"mark":"line","encoding":{"x":{"field":"t","type":"quantitative"},"y":{"field":"h","type":"quantitative"}}},{"mark":{"type":"line","color":"#404040","strokeWidth":2,"strokeDash":[1,0]},"encoding":{"x":{"field":"t","type":"quantitative"},"y":{"field":"m","type":"quantitative"}}}]},
{"width":154,"height":68,"transform":[{"filter":"datum.r=='PP'&&datum.c=='X'"}],"layer":[{"transform":[{"filter":"datum.t==0"}],"mark":"rule","encoding":{"y":{"datum":0,"type":"quantitative"}}},{"mark":"line","encoding":{"x":{"field":"t","type":"quantitative","scale":{"domain":[-1.5,25],"nice":false},"axis":{"title":null,"tickCount":40,"format":"d","values":[0,1,2,3,4,5,6,7,8,9,10,11,12,13,14,15,16,17,18,19,20,21,22,23,24],"labelExpr":"datum.value%5?'':datum.label","labelOverlap":false}},"y":{"field":"l","type":"quantitative","scale":{"domain":[-0.2,0.2],"nice":false},"axis":{"title":null,"tickCount":40,"values":[-0.2,-0.1,0,0.1,0.2],"format":".1f","labelExpr":"replace(datum.label,'−','-')","labelOverlap":false}}}},{"mark":"line","encoding":{"x":{"field":"t","type":"quantitative"},"y":{"field":"h","type":"quantitative"}}},{"mark":{"type":"line","color":"#404040","strokeWidth":2,"strokeDash":[1,0]},"encoding":{"x":{"field":"t","type":"quantitative"},"y":{"field":"m","type":"quantitative"}}}]},
{"width":154,"height":68,"transform":[{"filter":"datum.r=='R'&&datum.c=='RGDP'"}],"layer":[{"transform":[{"filter":"datum.t==0"}],"mark":"rule","encoding":{"y":{"datum":0,"type":"quantitative"}}},{"mark":"line","encoding":{"x":{"field":"t","type":"quantitative","scale":{"domain":[-1.5,25],"nice":false},"axis":{"title":null,"tickCount":40,"format":"d","values":[0,1,2,3,4,5,6,7,8,9,10,11,12,13,14,15,16,17,18,19,20,21,22,23,24],"labelExpr":"datum.value%5?'':datum.label","labelOverlap":false}},"y":{"field":"l","type":"quantitative","scale":{"domain":[-0.1,0.3],"nice":false},"axis":{"title":"R","titleX":-31,"titleY":45,"tickCount":40,"values":[-0.1,0,0.1,0.2,0.3],"format":".1f","labelExpr":"replace(datum.label,'−','-')","labelOverlap":false}}}},{"mark":"line","encoding":{"x":{"field":"t","type":"quantitative"},"y":{"field":"h","type":"quantitative"}}},{"mark":{"type":"line","color":"#404040","strokeWidth":2,"strokeDash":[1,0]},"encoding":{"x":{"field":"t","type":"quantitative"},"y":{"field":"m","type":"quantitative"}}}]},
{"width":154,"height":68,"transform":[{"filter":"datum.r=='R'&&datum.c=='CRD'"}],"layer":[{"transform":[{"filter":"datum.t==0"}],"mark":"rule","encoding":{"y":{"datum":0,"type":"quantitative"}}},{"mark":"line","encoding":{"x":{"field":"t","type":"quantitative","scale":{"domain":[-1.5,25],"nice":false},"axis":{"title":null,"tickCount":40,"format":"d","values":[0,1,2,3,4,5,6,7,8,9,10,11,12,13,14,15,16,17,18,19,20,21,22,23,24],"labelExpr":"datum.value%5?'':datum.label","labelOverlap":false}},"y":{"field":"l","type":"quantitative","scale":{"domain":[-0.2,0.2],"nice":false},"axis":{"title":null,"tickCount":40,"values":[-0.2,-0.1,0,0.1,0.2],"format":".1f","labelExpr":"replace(datum.label,'−','-')","labelOverlap":false}}}},{"mark":"line","encoding":{"x":{"field":"t","type":"quantitative"},"y":{"field":"h","type":"quantitative"}}},{"mark":{"type":"line","color":"#404040","strokeWidth":2,"strokeDash":[1,0]},"encoding":{"x":{"field":"t","type":"quantitative"},"y":{"field":"m","type":"quantitative"}}}]},
{"width":154,"height":68,"transform":[{"filter":"datum.r=='R'&&datum.c=='CPI'"}],"layer":[{"transform":[{"filter":"datum.t==0"}],"mark":"rule","encoding":{"y":{"datum":0,"type":"quantitative"}}},{"mark":"line","encoding":{"x":{"field":"t","type":"quantitative","scale":{"domain":[-1.5,25],"nice":false},"axis":{"title":null,"tickCount":40,"format":"d","values":[0,1,2,3,4,5,6,7,8,9,10,11,12,13,14,15,16,17,18,19,20,21,22,23,24],"labelExpr":"datum.value%5?'':datum.label","labelOverlap":false}},"y":{"field":"l","type":"quantitative","scale":{"domain":[-0.2,0.4],"nice":false},"axis":{"title":null,"tickCount":40,"values":[-0.2,0,0.2,0.4],"format":".1f","labelExpr":"replace(datum.label,'−','-')","labelOverlap":false}}}},{"mark":"line","encoding":{"x":{"field":"t","type":"quantitative"},"y":{"field":"h","type":"quantitative"}}},{"mark":{"type":"line","color":"#404040","strokeWidth":2,"strokeDash":[1,0]},"encoding":{"x":{"field":"t","type":"quantitative"},"y":{"field":"m","type":"quantitative"}}}]},
{"width":154,"height":68,"transform":[{"filter":"datum.r=='R'&&datum.c=='PP'"}],"layer":[{"transform":[{"filter":"datum.t==0"}],"mark":"rule","encoding":{"y":{"datum":0,"type":"quantitative"}}},{"mark":"line","encoding":{"x":{"field":"t","type":"quantitative","scale":{"domain":[-1.5,25],"nice":false},"axis":{"title":null,"tickCount":40,"format":"d","values":[0,1,2,3,4,5,6,7,8,9,10,11,12,13,14,15,16,17,18,19,20,21,22,23,24],"labelExpr":"datum.value%5?'':datum.label","labelOverlap":false}},"y":{"field":"l","type":"quantitative","scale":{"domain":[-0.2,0.2],"nice":false},"axis":{"title":null,"tickCount":40,"values":[-0.2,-0.1,0,0.1,0.2],"format":".1f","labelExpr":"replace(datum.label,'−','-')","labelOverlap":false}}}},{"mark":"line","encoding":{"x":{"field":"t","type":"quantitative"},"y":{"field":"h","type":"quantitative"}}},{"mark":{"type":"line","color":"#404040","strokeWidth":2,"strokeDash":[1,0]},"encoding":{"x":{"field":"t","type":"quantitative"},"y":{"field":"m","type":"quantitative"}}}]},
{"width":154,"height":68,"transform":[{"filter":"datum.r=='R'&&datum.c=='R'"}],"layer":[{"transform":[{"filter":"datum.t==0"}],"mark":"rule","encoding":{"y":{"datum":0,"type":"quantitative"}}},{"mark":"line","encoding":{"x":{"field":"t","type":"quantitative","scale":{"domain":[-1.5,25],"nice":false},"axis":{"title":null,"tickCount":40,"format":"d","values":[0,1,2,3,4,5,6,7,8,9,10,11,12,13,14,15,16,17,18,19,20,21,22,23,24],"labelExpr":"datum.value%5?'':datum.label","labelOverlap":false}},"y":{"field":"l","type":"quantitative","scale":{"domain":[-0.2,0.6],"nice":false},"axis":{"title":null,"tickCount":40,"values":[-0.2,0,0.2,0.4,0.6],"format":".1f","labelExpr":"replace(datum.label,'−','-')","labelOverlap":false}}}},{"mark":"line","encoding":{"x":{"field":"t","type":"quantitative"},"y":{"field":"h","type":"quantitative"}}},{"mark":{"type":"line","color":"#404040","strokeWidth":2,"strokeDash":[1,0]},"encoding":{"x":{"field":"t","type":"quantitative"},"y":{"field":"m","type":"quantitative"}}}]},
{"width":154,"height":68,"transform":[{"filter":"datum.r=='R'&&datum.c=='X'"}],"layer":[{"transform":[{"filter":"datum.t==0"}],"mark":"rule","encoding":{"y":{"datum":0,"type":"quantitative"}}},{"mark":"line","encoding":{"x":{"field":"t","type":"quantitative","scale":{"domain":[-1.5,25],"nice":false},"axis":{"title":null,"tickCount":40,"format":"d","values":[0,1,2,3,4,5,6,7,8,9,10,11,12,13,14,15,16,17,18,19,20,21,22,23,24],"labelExpr":"datum.value%5?'':datum.label","labelOverlap":false}},"y":{"field":"l","type":"quantitative","scale":{"domain":[-0.2,0.2],"nice":false},"axis":{"title":null,"tickCount":40,"values":[-0.2,-0.1,0,0.1,0.2],"format":".1f","labelExpr":"replace(datum.label,'−','-')","labelOverlap":false}}}},{"mark":"line","encoding":{"x":{"field":"t","type":"quantitative"},"y":{"field":"h","type":"quantitative"}}},{"mark":{"type":"line","color":"#404040","strokeWidth":2,"strokeDash":[1,0]},"encoding":{"x":{"field":"t","type":"quantitative"},"y":{"field":"m","type":"quantitative"}}}]},
{"width":154,"height":68,"transform":[{"filter":"datum.r=='X'&&datum.c=='RGDP'"}],"layer":[{"transform":[{"filter":"datum.t==0"}],"mark":"rule","encoding":{"y":{"datum":0,"type":"quantitative"}}},{"mark":"line","encoding":{"x":{"field":"t","type":"quantitative","scale":{"domain":[-1.5,25],"nice":false},"axis":{"title":null,"tickCount":40,"format":"d","values":[0,1,2,3,4,5,6,7,8,9,10,11,12,13,14,15,16,17,18,19,20,21,22,23,24],"labelExpr":"datum.value%5?'':datum.label","labelOverlap":false}},"y":{"field":"l","type":"quantitative","scale":{"domain":[-2,2],"nice":false},"axis":{"title":"X","titleX":-31,"titleY":45,"tickCount":40,"values":[-2,-1,0,1,2],"format":"d","labelExpr":"replace(datum.label,'−','-')","labelOverlap":false}}}},{"mark":"line","encoding":{"x":{"field":"t","type":"quantitative"},"y":{"field":"h","type":"quantitative"}}},{"mark":{"type":"line","color":"#404040","strokeWidth":2,"strokeDash":[1,0]},"encoding":{"x":{"field":"t","type":"quantitative"},"y":{"field":"m","type":"quantitative"}}}]},
{"width":154,"height":68,"transform":[{"filter":"datum.r=='X'&&datum.c=='CRD'"}],"layer":[{"transform":[{"filter":"datum.t==0"}],"mark":"rule","encoding":{"y":{"datum":0,"type":"quantitative"}}},{"mark":"line","encoding":{"x":{"field":"t","type":"quantitative","scale":{"domain":[-1.5,25],"nice":false},"axis":{"title":null,"tickCount":40,"format":"d","values":[0,1,2,3,4,5,6,7,8,9,10,11,12,13,14,15,16,17,18,19,20,21,22,23,24],"labelExpr":"datum.value%5?'':datum.label","labelOverlap":false}},"y":{"field":"l","type":"quantitative","scale":{"domain":[-1,3],"nice":false},"axis":{"title":null,"tickCount":40,"values":[-1,0,1,2,3],"format":"d","labelExpr":"replace(datum.label,'−','-')","labelOverlap":false}}}},{"mark":"line","encoding":{"x":{"field":"t","type":"quantitative"},"y":{"field":"h","type":"quantitative"}}},{"mark":{"type":"line","color":"#404040","strokeWidth":2,"strokeDash":[1,0]},"encoding":{"x":{"field":"t","type":"quantitative"},"y":{"field":"m","type":"quantitative"}}}]},
{"width":154,"height":68,"transform":[{"filter":"datum.r=='X'&&datum.c=='CPI'"}],"layer":[{"transform":[{"filter":"datum.t==0"}],"mark":"rule","encoding":{"y":{"datum":0,"type":"quantitative"}}},{"mark":"line","encoding":{"x":{"field":"t","type":"quantitative","scale":{"domain":[-1.5,25],"nice":false},"axis":{"title":null,"tickCount":40,"format":"d","values":[0,1,2,3,4,5,6,7,8,9,10,11,12,13,14,15,16,17,18,19,20,21,22,23,24],"labelExpr":"datum.value%5?'':datum.label","labelOverlap":false}},"y":{"field":"l","type":"quantitative","scale":{"domain":[-2,2],"nice":false},"axis":{"title":null,"tickCount":40,"values":[-2,-1,0,1,2],"format":"d","labelExpr":"replace(datum.label,'−','-')","labelOverlap":false}}}},{"mark":"line","encoding":{"x":{"field":"t","type":"quantitative"},"y":{"field":"h","type":"quantitative"}}},{"mark":{"type":"line","color":"#404040","strokeWidth":2,"strokeDash":[1,0]},"encoding":{"x":{"field":"t","type":"quantitative"},"y":{"field":"m","type":"quantitative"}}}]},
{"width":154,"height":68,"transform":[{"filter":"datum.r=='X'&&datum.c=='PP'"}],"layer":[{"transform":[{"filter":"datum.t==0"}],"mark":"rule","encoding":{"y":{"datum":0,"type":"quantitative"}}},{"mark":"line","encoding":{"x":{"field":"t","type":"quantitative","scale":{"domain":[-1.5,25],"nice":false},"axis":{"title":null,"tickCount":40,"format":"d","values":[0,1,2,3,4,5,6,7,8,9,10,11,12,13,14,15,16,17,18,19,20,21,22,23,24],"labelExpr":"datum.value%5?'':datum.label","labelOverlap":false}},"y":{"field":"l","type":"quantitative","scale":{"domain":[-2,2],"nice":false},"axis":{"title":null,"tickCount":40,"values":[-2,-1,0,1,2],"format":"d","labelExpr":"replace(datum.label,'−','-')","labelOverlap":false}}}},{"mark":"line","encoding":{"x":{"field":"t","type":"quantitative"},"y":{"field":"h","type":"quantitative"}}},{"mark":{"type":"line","color":"#404040","strokeWidth":2,"strokeDash":[1,0]},"encoding":{"x":{"field":"t","type":"quantitative"},"y":{"field":"m","type":"quantitative"}}}]},
{"width":154,"height":68,"transform":[{"filter":"datum.r=='X'&&datum.c=='R'"}],"layer":[{"transform":[{"filter":"datum.t==0"}],"mark":"rule","encoding":{"y":{"datum":0,"type":"quantitative"}}},{"mark":"line","encoding":{"x":{"field":"t","type":"quantitative","scale":{"domain":[-1.5,25],"nice":false},"axis":{"title":null,"tickCount":40,"format":"d","values":[0,1,2,3,4,5,6,7,8,9,10,11,12,13,14,15,16,17,18,19,20,21,22,23,24],"labelExpr":"datum.value%5?'':datum.label","labelOverlap":false}},"y":{"field":"l","type":"quantitative","scale":{"domain":[-2,2],"nice":false},"axis":{"title":null,"tickCount":40,"values":[-2,-1,0,1,2],"format":"d","labelExpr":"replace(datum.label,'−','-')","labelOverlap":false}}}},{"mark":"line","encoding":{"x":{"field":"t","type":"quantitative"},"y":{"field":"h","type":"quantitative"}}},{"mark":{"type":"line","color":"#404040","strokeWidth":2,"strokeDash":[1,0]},"encoding":{"x":{"field":"t","type":"quantitative"},"y":{"field":"m","type":"quantitative"}}}]},
{"width":154,"height":68,"transform":[{"filter":"datum.r=='X'&&datum.c=='X'"}],"layer":[{"transform":[{"filter":"datum.t==0"}],"mark":"rule","encoding":{"y":{"datum":0,"type":"quantitative"}}},{"mark":"line","encoding":{"x":{"field":"t","type":"quantitative","scale":{"domain":[-1.5,25],"nice":false},"axis":{"title":null,"tickCount":40,"format":"d","values":[0,1,2,3,4,5,6,7,8,9,10,11,12,13,14,15,16,17,18,19,20,21,22,23,24],"labelExpr":"datum.value%5?'':datum.label","labelOverlap":false}},"y":{"field":"l","type":"quantitative","scale":{"domain":[-2,6],"nice":false},"axis":{"title":null,"tickCount":40,"values":[-2,0,2,4,6],"format":"d","labelExpr":"replace(datum.label,'−','-')","labelOverlap":false}}}},{"mark":"line","encoding":{"x":{"field":"t","type":"quantitative"},"y":{"field":"h","type":"quantitative"}}},{"mark":{"type":"line","color":"#404040","strokeWidth":2,"strokeDash":[1,0]},"encoding":{"x":{"field":"t","type":"quantitative"},"y":{"field":"m","type":"quantitative"}}}]}
],
"config": {
"view": {"stroke": "#4a4a4a", "strokeWidth": 1.1},
"axis": {"grid": false, "domainColor": "#4a4a4a", "domainWidth": 1.1, "tickColor": "#4a4a4a", "tickSize": 3, "labelColor": "#333333", "labelFont": "DejaVu Sans Condensed, Liberation Sans Narrow, sans-serif", "labelFontSize": 8.5, "labelPadding": 1.5, "labelFlush": false, "labelOverlap": false, "labelBound": false},
"axisY": {"titleAngle": 0, "titleAlign": "right", "titleBaseline": "middle", "titleFont": "DejaVu Sans Condensed, Liberation Sans Narrow, sans-serif", "titleFontSize": 18, "titleFontWeight": "bold", "titleColor": "#111111"},
"title": {"font": "DejaVu Sans Condensed, Liberation Sans Narrow, sans-serif", "fontSize": 18, "fontWeight": "bold", "color": "#111111", "offset": 3, "frame": "group", "dx": -12},
"line": {"color": "#a6a6a6", "strokeWidth": 1.5, "strokeDash": [1.5, 1.5]},
"rule": {"color": "#3a3a3a", "strokeWidth": 1.3}
}
}
